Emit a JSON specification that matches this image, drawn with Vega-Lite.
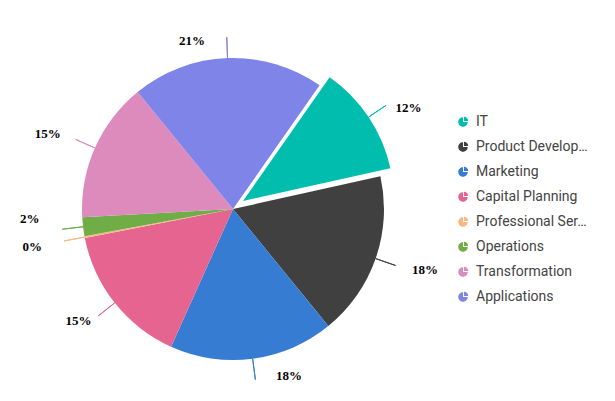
{
  "$schema": "https://vega.github.io/schema/vega-lite/v6.json",
  "width": 466,
  "height": 384,
  "autosize": "none",
  "padding": {"left": 0, "top": 17, "right": 149, "bottom": 0},
  "background": "white",
  "config": {"view": {"stroke": null}},
  "data": {
    "values": [
      {"cat": "IT", "v": 11.8, "lab": "12%", "ord": 1},
      {"cat": "Product Development", "v": 17.6, "lab": "18%", "ord": 2},
      {"cat": "Marketing", "v": 17.6, "lab": "18%", "ord": 3},
      {"cat": "Capital Planning", "v": 15.2, "lab": "15%", "ord": 4},
      {"cat": "Professional Services", "v": 0.2, "lab": "0%", "ord": 5},
      {"cat": "Operations", "v": 2.0, "lab": "2%", "ord": 6},
      {"cat": "Transformation", "v": 15.0, "lab": "15%", "ord": 7},
      {"cat": "Applications", "v": 20.6, "lab": "21%", "ord": 8}
    ]
  },
  "layer": [
    {
      "mark": {
        "type": "arc",
        "outerRadius": 151,
        "xOffset": {"expr": "datum.cat === 'IT' ? 10 : 0"},
        "yOffset": {"expr": "datum.cat === 'IT' ? -8 : 0"}
      },
      "encoding": {
        "theta": {
          "field": "v",
          "type": "quantitative",
          "stack": true,
          "scale": {"domain": [0, 100], "range": [0.611, 6.894]}
        },
        "order": {"field": "ord", "type": "quantitative"},
        "color": {
          "field": "cat",
          "type": "nominal",
          "scale": {
            "domain": ["IT", "Product Development", "Marketing", "Capital Planning", "Professional Services", "Operations", "Transformation", "Applications"],
            "range": ["#00bdae", "#404041", "#357cd2", "#e56590", "#f8b883", "#70ad47", "#dd8abd", "#7f84e8"]
          },
          "legend": {
            "title": null,
            "orient": "none",
            "legendX": 456,
            "legendY": 98,
            "padding": 0,
            "symbolType": "M0,0 L0,-1 A1,1 0 1,0 1,0 Z M0.2,-0.2 L0.2,-1.1 A0.9,0.9 0 0,1 1.1,-0.2 Z",
            "symbolSize": 90,
            "symbolStrokeWidth": 0,
            "labelFont": "Roboto",
            "labelFontSize": 14,
            "labelColor": "#444444",
            "labelOffset": 6,
            "labelLimit": 116,
            "rowPadding": 11
          }
        }
      }
    },
    {
      "transform": [
        {"window": [{"op": "sum", "field": "v", "as": "cum"}], "sort": [{"field": "ord"}], "frame": [null, 0]},
        {"calculate": "datum.cum - datum.v / 2", "as": "mid"}
      ],
      "layer": [
        {
          "mark": {
            "type": "arc",
            "innerRadius": 151,
            "outerRadius": 172,
            "filled": false,
            "strokeWidth": 1,
            "xOffset": {"expr": "datum.cat === 'IT' ? 10 : 0"},
            "yOffset": {"expr": "datum.cat === 'IT' ? -8 : 0"}
          },
          "encoding": {
            "theta": {"field": "mid", "type": "quantitative", "stack": null},
            "theta2": {"field": "mid"},
            "stroke": {
              "field": "cat",
              "type": "nominal",
              "legend": null,
              "scale": {
                "domain": ["IT", "Product Development", "Marketing", "Capital Planning", "Professional Services", "Operations", "Transformation", "Applications"],
                "range": ["#00bdae", "#404041", "#357cd2", "#e56590", "#f8b883", "#70ad47", "#dd8abd", "#7f84e8"]
              }
            }
          }
        },
        {
          "mark": {
            "type": "text",
            "radius": {"expr": "1 / sqrt(pow(sin(0.611 + datum.mid * 0.0628319) / 190, 2) + pow(cos(0.611 + datum.mid * 0.0628319) / 168, 2))"},
            "dx": {"expr": "(sin(0.611 + datum.mid * 0.0628319) > 0 ? 15 : -15) - 20 * pow(cos(0.611 + datum.mid * 0.0628319), 5)"},
            "dy": {"expr": "datum.cat === 'Operations' ? -12 : (datum.cat === 'Professional Services' ? 3 : (datum.cat === 'IT' ? 8 : 0))"},
            "font": "Liberation Serif",
            "fontWeight": "bold",
            "fontSize": 13,
            "color": "black",
            "xOffset": {"expr": "datum.cat === 'IT' ? 10 : 0"},
            "yOffset": {"expr": "datum.cat === 'IT' ? -8 : 0"}
          },
          "encoding": {
            "theta": {"field": "mid", "type": "quantitative", "stack": null},
            "text": {"field": "lab"}
          }
        }
      ]
    }
  ]
}
